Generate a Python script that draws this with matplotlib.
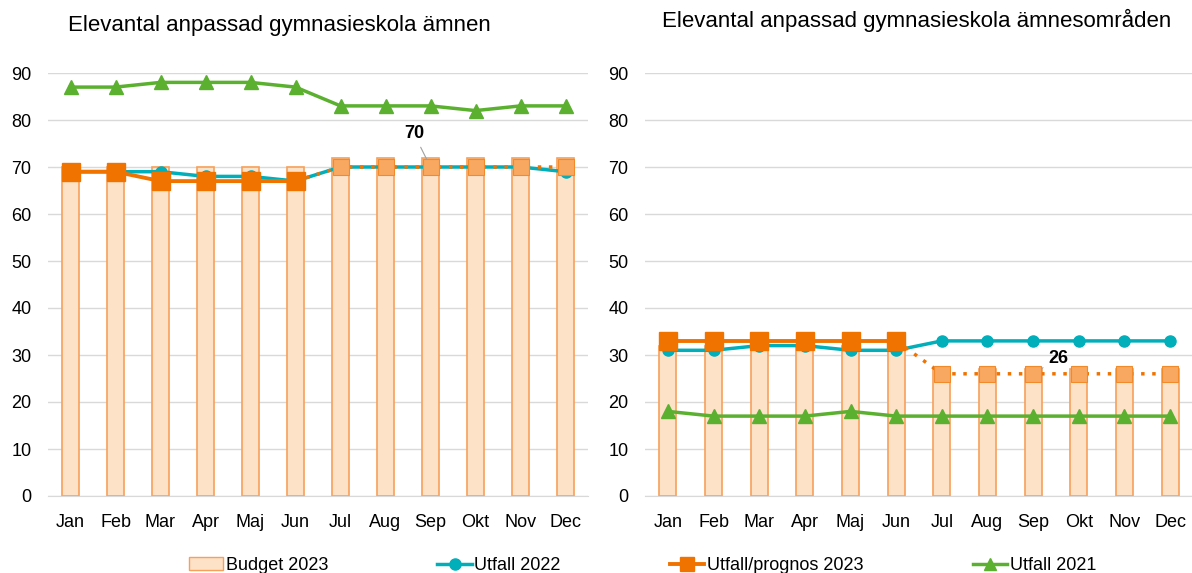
import numpy as np
import matplotlib.pyplot as plt
from matplotlib.lines import Line2D
from matplotlib.patches import Patch

plt.rcParams['font.family'] = ['Liberation Sans', 'DejaVu Sans']

months = ['Jan', 'Feb', 'Mar', 'Apr', 'Maj', 'Jun', 'Jul', 'Aug', 'Sep', 'Okt', 'Nov', 'Dec']

# vänster: ämnen
budget_a = [70, 70, 70, 70, 70, 70, 72, 72, 72, 72, 72, 72]
utfall22_a = [69, 69, 69, 68, 68, 67, 70, 70, 70, 70, 70, 69]
utfall23_a = [69, 69, 67, 67, 67, 67]
prognos23_a = [70, 70, 70, 70, 70, 70]
utfall21_a = [87, 87, 88, 88, 88, 87, 83, 83, 83, 82, 83, 83]

# höger: ämnesområden
budget_b = [32, 32, 32, 32, 32, 32, 27, 27, 27, 27, 27, 27]
utfall22_b = [31, 31, 32, 32, 31, 31, 33, 33, 33, 33, 33, 33]
utfall23_b = [33, 33, 33, 33, 33, 33]
prognos23_b = [26, 26, 26, 26, 26, 26]
utfall21_b = [18, 17, 17, 17, 18, 17, 17, 17, 17, 17, 17, 17]

teal = '#00AFBA'
orange = '#F07300'
green = '#5BB030'
bar_fill = '#FDE2C8'
bar_edge = '#F7A05A'


def draw(ax, budget, u22, u23, prog, u21, label_value, label_offset):
    x = np.arange(12)
    ax.bar(x, budget, width=0.37, color=bar_fill, edgecolor=bar_edge, linewidth=1.2, zorder=2)
    ax.plot(x, u21, color=green, lw=2.5, marker='^', ms=10, zorder=3)
    ax.plot(x, u22, color=teal, lw=2.5, marker='o', ms=8, zorder=4)
    n = len(u23)
    ax.plot(x[:n], u23, color=orange, lw=2.8, marker='s', ms=13, zorder=5)
    xp = x[n - 1:]
    yp = [u23[-1]] + prog
    ax.plot(xp, yp, color=orange, lw=2.5, ls=(0, (1, 2.2)), zorder=5)
    ax.plot(x[n:], prog, ls='none', marker='s', ms=12, mfc='#F9A862',
            mec='#F08A2A', mew=0.8, zorder=6)
    ax.annotate(str(label_value), xy=(8, prog[2]), xytext=label_offset,
                textcoords='offset points', fontsize=13, fontweight='bold',
                ha='center', va='bottom',
                arrowprops=dict(arrowstyle='-', color='#A0A0A0', lw=0.8))
    ax.set_xlim(-0.5, 11.5)
    ax.set_ylim(0, 90)
    ax.set_yticks(range(0, 91, 10))
    ax.set_xticks(x)
    ax.set_xticklabels(months)
    ax.tick_params(labelsize=13, length=0)
    ax.tick_params(axis='x', pad=13)
    ax.tick_params(axis='y', pad=12)
    ax.grid(axis='y', color='#D9D9D9', lw=1, zorder=0)
    ax.set_axisbelow(True)
    for s in ['top', 'right', 'left']:
        ax.spines[s].set_visible(False)
    ax.spines['bottom'].set_color('#D9D9D9')


fig = plt.figure(figsize=(11.92, 5.73), dpi=100)
ax1 = fig.add_axes([48 / 1192, 77 / 573, 540 / 1192, 423 / 573])
ax2 = fig.add_axes([645 / 1192, 77 / 573, 548 / 1192, 423 / 573])

draw(ax1, budget_a, utfall22_a, utfall23_a, prognos23_a, utfall21_a, 70, (-12, 18))
draw(ax2, budget_b, utfall22_b, utfall23_b, prognos23_b, utfall21_b, 26, (18, 5))

fig.text(68 / 1192, 1 - 25 / 573, 'Elevantal anpassad gymnasieskola ämnen',
         fontsize=16, va='center', ha='left')
fig.text(662 / 1192, 1 - 20 / 573, 'Elevantal anpassad gymnasieskola ämnesområden',
         fontsize=16, va='center', ha='left')

handles = [
    Patch(facecolor=bar_fill, edgecolor=bar_edge, label='Budget 2023'),
    Line2D([], [], color=teal, lw=2.5, marker='o', ms=8, label='Utfall 2022'),
    Line2D([], [], color=orange, lw=2.8, marker='s', ms=10, label='Utfall/prognos 2023'),
    Line2D([], [], color=green, lw=2.5, marker='^', ms=9, label='Utfall 2021'),
]
fig.legend(handles=handles, loc='lower center', ncol=4, frameon=False,
           fontsize=13, bbox_to_anchor=(0.539, -0.03), columnspacing=6.05,
           handlelength=1.9, handletextpad=0.15)

fig.savefig('out.png', dpi=100)
